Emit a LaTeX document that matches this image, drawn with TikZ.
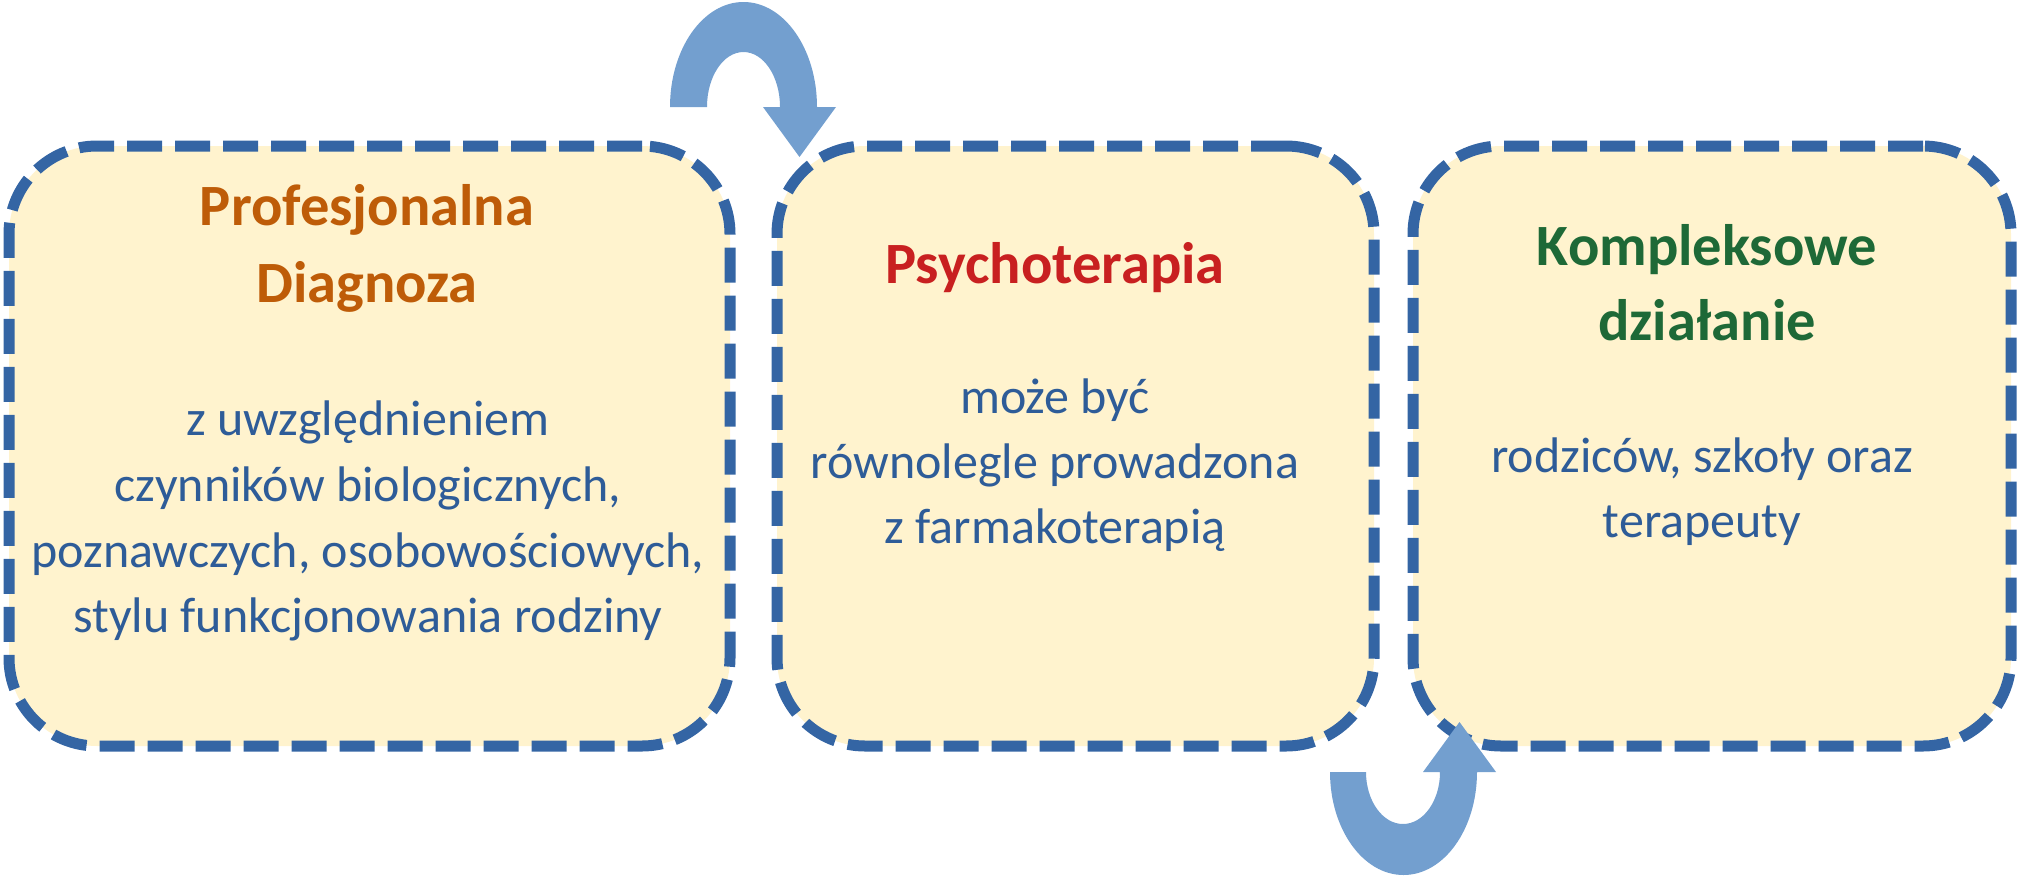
\documentclass[tikz,border=0pt]{standalone}
\usepackage{fontspec}
\setmainfont{Carlito}
\definecolor{boxline}{RGB}{52,101,164}
\definecolor{boxfill}{RGB}{255,243,206}
\definecolor{arrowblue}{RGB}{115,159,207}
\definecolor{bodyblue}{RGB}{46,92,152}
\definecolor{ttlorange}{RGB}{190,92,8}
\definecolor{ttlred}{RGB}{200,32,32}
\definecolor{ttlgreen}{RGB}{30,105,55}
\begin{document}
\begin{tikzpicture}[x=1pt,y=1pt,
  box/.style={draw=boxline, fill=boxfill, line width=11pt, dash pattern=on 35pt off 13pt,
    rounded corners=88pt, minimum height=600pt, inner sep=0pt, outer sep=0pt},
  ttl/.style={font=\bfseries\fontsize{58.5}{70}\selectfont, anchor=base, inner sep=0pt},
  body/.style={text=bodyblue, font=\fontsize{50}{60}\selectfont, anchor=base, inner sep=0pt},
  uturn/.style={fill=arrowblue, draw=none}]
\useasboundingbox (0,0) rectangle (2019,-879);

\node[box, minimum width=721pt] (b1) at (369.5,-446) {};
\node[box, minimum width=597pt] (b2) at (1075.5,-446) {};
\node[box, minimum width=598pt] (b3) at (1712,-446) {};

% box 1
\node[ttl, text=ttlorange] (t1a) at (367,-225) {Profesjonalna};
\node[ttl, text=ttlorange] (t1b) at (367,-302) {Diagnoza};
\node[body] (d1a) at (368,-435) {z uwzględnieniem};
\node[body] (d1b) at (368,-501) {czynników biologicznych,};
\node[body] (d1c) at (368,-567) {poznawczych, osobowościowych,};
\node[body] (d1d) at (368,-632) {stylu funkcjonowania rodziny};

% box 2
\node[ttl, text=ttlred] (t2) at (1055,-283) {Psychoterapia};
\node[body] (d2a) at (1055,-413) {może być};
\node[body] (d2b) at (1055,-478) {równolegle prowadzona};
\node[body] (d2c) at (1055,-543) {z farmakoterapią};

% box 3
\node[ttl, text=ttlgreen] (t3a) at (1707,-265) {Kompleksowe};
\node[ttl, text=ttlgreen] (t3b) at (1707,-340) {działanie};
\node[body] (d3a) at (1702,-472) {rodziców, szkoły oraz};
\node[body] (d3b) at (1702,-537) {terapeuty};

% top U-turn arrow
\fill[uturn] (670,-107) arc[start angle=180,end angle=0,x radius=73.5pt,y radius=105pt]
  -- (836,-107) -- (799.5,-157) -- (763,-107) -- (780,-107)
  arc[start angle=0,end angle=180,x radius=36.5pt,y radius=55pt] -- cycle;
% bottom U-turn arrow
\fill[uturn] (1330,-772) arc[start angle=180,end angle=360,x radius=73.5pt,y radius=103pt]
  -- (1496,-772) -- (1459.5,-722) -- (1423,-772) -- (1440,-772)
  arc[start angle=360,end angle=180,x radius=37pt,y radius=52pt] -- cycle;
\end{tikzpicture}
\end{document}
